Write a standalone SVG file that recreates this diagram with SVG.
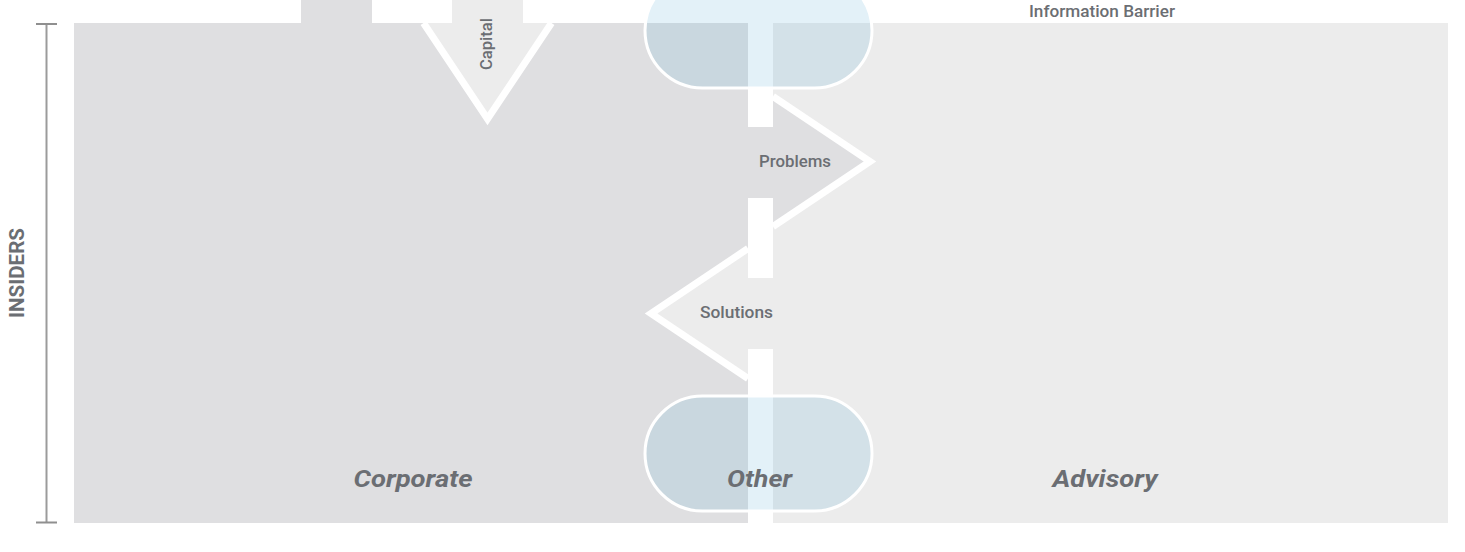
<svg xmlns="http://www.w3.org/2000/svg" width="1465" height="552" viewBox="0 0 1465 552">
<style>
.corp{fill:#dfdfe1}
.adv{fill:#ececec}
.pill{fill:rgb(106,180,217);fill-opacity:0.19;stroke:#ffffff;stroke-width:3}
.edge{fill:none;stroke:#ffffff;stroke-width:7;stroke-linejoin:miter}
.lbl{font-family:Roboto,"Liberation Sans",sans-serif;font-size:16px;font-weight:500;fill:#6b6e73}
.big{font-family:Roboto,"Liberation Sans",sans-serif;font-size:24px;font-weight:700;font-style:italic;fill:#6b6e73;text-anchor:middle}
</style>
<rect width="1465" height="552" fill="#ffffff"/>
<g id="corporate">
<rect class="corp" x="74" y="23" width="674" height="500"/>
<rect class="corp" x="301" y="0" width="71" height="23"/>
<text class="big" x="413" y="487" textLength="119" lengthAdjust="spacingAndGlyphs">Corporate</text>
</g>
<g id="advisory">
<rect class="adv" x="773" y="23" width="675" height="500"/>
<text class="big" x="1105" y="487" textLength="105" lengthAdjust="spacingAndGlyphs">Advisory</text>
</g>
<g id="information-barrier">
<text class="lbl" x="1102" y="17" text-anchor="middle" textLength="146" lengthAdjust="spacingAndGlyphs">Information Barrier</text>
</g>
<g id="insiders">
<line x1="46.5" y1="23" x2="46.5" y2="523" stroke="#9b9b9b" stroke-width="2"/>
<line x1="36" y1="24" x2="57" y2="24" stroke="#8f8f8f" stroke-width="2"/>
<line x1="36" y1="522.5" x2="57" y2="522.5" stroke="#8f8f8f" stroke-width="2"/>
<text x="24" y="273" transform="rotate(-90 24 273)" text-anchor="middle" font-family="Roboto,'Liberation Sans',sans-serif" font-size="21" font-weight="700" fill="#6b6e73" textLength="90" lengthAdjust="spacingAndGlyphs">INSIDERS</text>
</g>
<g id="connectors">
<g id="capital">
<rect class="adv" x="452" y="0" width="71" height="23"/>
<polygon class="adv" points="423.5,23 551.5,23 487.5,119"/>
<polyline class="edge" points="423.5,23 487.5,119 551.5,23"/>
<text class="lbl" x="0" y="0" transform="translate(492 44) rotate(-90)" text-anchor="middle" textLength="52" lengthAdjust="spacingAndGlyphs">Capital</text>
</g>
<g id="problems">
<rect class="corp" x="700" y="127" width="73" height="71"/>
<polygon class="corp" points="773,96.5 870,161.5 773,226.5"/>
<polyline class="edge" points="773,96.5 870,161.5 773,226.5"/>
<text class="lbl" x="795" y="167" text-anchor="middle" textLength="72" lengthAdjust="spacingAndGlyphs">Problems</text>
</g>
<g id="solutions">
<rect class="adv" x="748" y="278" width="80" height="71"/>
<polygon class="adv" points="748,248.5 651,313.5 748,378.5"/>
<polyline class="edge" points="748,248.5 651,313.5 748,378.5"/>
<text class="lbl" x="736.5" y="318" text-anchor="middle" textLength="73" lengthAdjust="spacingAndGlyphs">Solutions</text>
</g>
</g>
<g id="other-top">
<rect class="pill" x="645" y="-27" width="227" height="115" rx="57.5" ry="57.5"/>
</g>
<g id="other">
<rect class="pill" x="645" y="396" width="227" height="115" rx="57.5" ry="57.5"/>
<text class="big" x="759.5" y="487" textLength="65" lengthAdjust="spacingAndGlyphs">Other</text>
</g>
</svg>
